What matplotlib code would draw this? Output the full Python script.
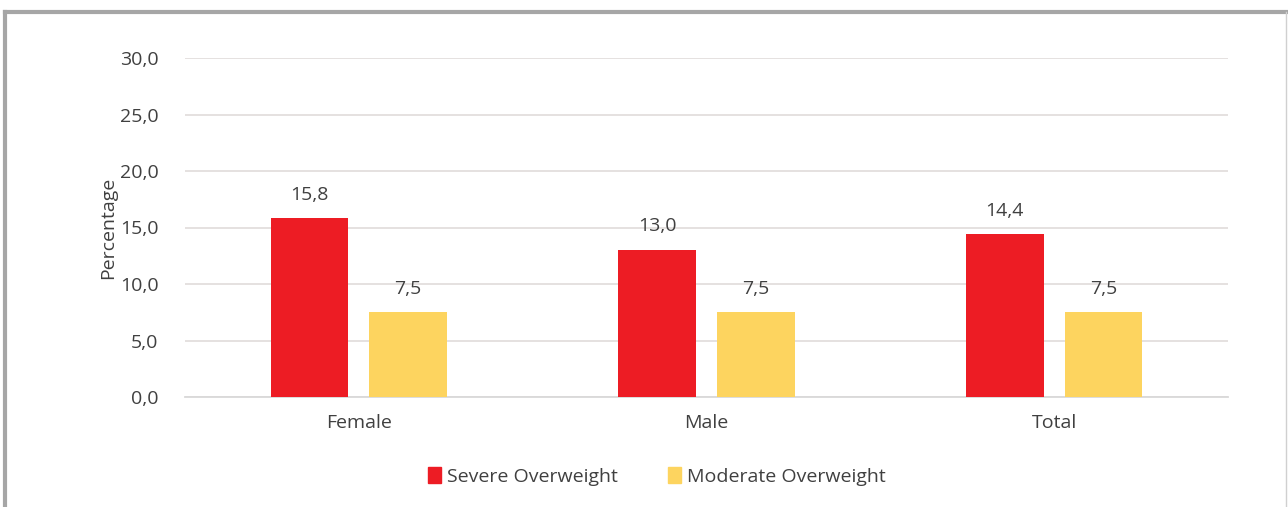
import matplotlib
matplotlib.use('Agg')
import numpy as np
from matplotlib import pyplot as plt
from matplotlib.patches import Rectangle
from matplotlib.lines import Line2D

categories = ['Female', 'Male', 'Total']
severe = [15.8, 13.0, 14.4]
moderate = [7.5, 7.5, 7.5]
series_names = ['Severe Overweight', 'Moderate Overweight']
yticks = [0, 5, 10, 15, 20, 25, 30]

red = '#ed1c24'
yellow = '#fdd45f'
txt = '#404040'

plt.rcParams['font.family'] = ['Open Sans', 'DejaVu Sans']

fig = plt.figure(figsize=(12.88, 5.07), dpi=100)
ax = fig.add_axes([185/1288, 1 - 397/507, (1228 - 185)/1288, (397 - 58)/507])

x = np.arange(len(categories))
w = 0.224
gap = 0.06
b1 = ax.bar(x - (w + gap)/2, severe, w, color=red, zorder=3, label=series_names[0])
b2 = ax.bar(x + (w + gap)/2, moderate, w, color=yellow, zorder=3, label=series_names[1])

for bars in (b1, b2):
    for r in bars:
        h = r.get_height()
        ax.text(r.get_x() + r.get_width()/2, h + 1.3, f'{h:.1f}'.replace('.', ','),
                ha='center', va='bottom', fontsize=14, color=txt)

ax.set_xlim(-0.5, 2.5)
ax.set_ylim(0, 30)
ax.set_yticks(yticks)
ax.set_yticklabels([f'{t:.1f}'.replace('.', ',') for t in yticks])
ax.set_xticks(x)
ax.set_xticklabels(categories)
ax.tick_params(axis='both', length=0, labelsize=14, labelcolor=txt)
ax.tick_params(axis='y', pad=19)
ax.tick_params(axis='x', pad=12)
ax.yaxis.grid(True, color='#e3dedd', linewidth=1.3, zorder=0)
for s in ('top', 'right', 'left'):
    ax.spines[s].set_visible(False)
ax.spines['bottom'].set_color('#d9d9d9')
ax.spines['bottom'].set_linewidth(1.3)
ax.set_ylabel('Percentage', fontsize=14, color=txt, labelpad=2)

ax.legend(handles=[Rectangle((0, 0), 1, 1, color=red), Rectangle((0, 0), 1, 1, color=yellow)],
          labels=series_names, loc='center', bbox_to_anchor=(0.4525, -0.235),
          ncol=2, frameon=False, fontsize=14, labelcolor=txt,
          handlelength=0.65, handleheight=0.9, handletextpad=0.3, columnspacing=2.6)

# outer frame
fig.add_artist(Line2D([5/1288, 5/1288], [0, 1 - 12/507], color='#a6a6a6', lw=3, transform=fig.transFigure))
fig.add_artist(Line2D([5/1288, 1286/1288], [1 - 12/507, 1 - 12/507], color='#a6a6a6', lw=3, transform=fig.transFigure))
fig.add_artist(Line2D([1286/1288, 1286/1288], [0, 1 - 12/507], color='#d0d0d0', lw=1, transform=fig.transFigure))

fig.savefig('out.png', dpi=100)
